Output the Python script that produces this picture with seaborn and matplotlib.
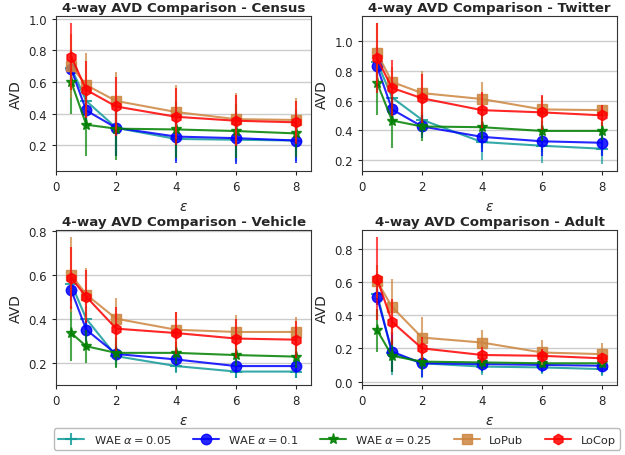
import matplotlib
matplotlib.use("Agg")
import matplotlib.pyplot as plt
import seaborn as sns
import numpy as np

sns.set_style("ticks")
plt.rcParams['font.family'] = ['DejaVu Sans']

eps = [0.5, 1, 2, 4, 6, 8]
methods = [r'WAE $\alpha = 0.05$', r'WAE $\alpha = 0.1$', r'WAE $\alpha = 0.25$', 'LoPub', 'LoCop']
colors = ['#139a9a', 'blue', 'green', 'peru', 'red']
markers = ['+', 'o', '*', 's', 'h']

titles = ['4-way AVD Comparison - Census', '4-way AVD Comparison - Twitter',
          '4-way AVD Comparison - Vehicle', '4-way AVD Comparison - Adult']

# Census
census_vals = [
    [0.69, 0.48, 0.31, 0.24, 0.235, 0.23],
    [0.68, 0.42, 0.31, 0.255, 0.245, 0.23],
    [0.60, 0.33, 0.305, 0.30, 0.29, 0.275],
    [0.70, 0.58, 0.48, 0.41, 0.365, 0.36],
    [0.76, 0.55, 0.445, 0.38, 0.355, 0.345],
]
census_err = [
    [0.08, 0.12, 0.18, 0.14, 0.14, 0.13],
    [0.08, 0.10, 0.18, 0.165, 0.165, 0.14],
    [0.20, 0.20, 0.195, 0.18, 0.17, 0.15],
    [0.20, 0.20, 0.18, 0.17, 0.165, 0.14],
    [0.21, 0.18, 0.185, 0.18, 0.16, 0.135],
]
# Twitter
twitter_vals = [
    [0.86, 0.62, 0.47, 0.32, 0.295, 0.275],
    [0.83, 0.54, 0.425, 0.355, 0.325, 0.315],
    [0.72, 0.465, 0.425, 0.42, 0.395, 0.395],
    [0.92, 0.725, 0.65, 0.61, 0.54, 0.535],
    [0.885, 0.685, 0.615, 0.535, 0.52, 0.50],
]
twitter_err = [
    [0.10, 0.10, 0.10, 0.12, 0.115, 0.105],
    [0.10, 0.10, 0.08, 0.10, 0.10, 0.09],
    [0.22, 0.185, 0.095, 0.08, 0.07, 0.06],
    [0.20, 0.10, 0.15, 0.115, 0.09, 0.035],
    [0.235, 0.19, 0.165, 0.12, 0.12, 0.07],
]
# Vehicle
vehicle_vals = [
    [0.56, 0.40, 0.23, 0.185, 0.16, 0.16],
    [0.53, 0.35, 0.24, 0.215, 0.185, 0.185],
    [0.335, 0.275, 0.245, 0.245, 0.235, 0.228],
    [0.60, 0.51, 0.40, 0.35, 0.34, 0.34],
    [0.585, 0.50, 0.355, 0.335, 0.31, 0.305],
]
vehicle_err = [
    [0.05, 0.06, 0.05, 0.03, 0.03, 0.03],
    [0.05, 0.05, 0.03, 0.03, 0.03, 0.03],
    [0.125, 0.075, 0.07, 0.05, 0.05, 0.05],
    [0.17, 0.12, 0.095, 0.08, 0.075, 0.07],
    [0.14, 0.12, 0.10, 0.095, 0.09, 0.085],
]
# Adult
adult_vals = [
    [0.53, 0.17, 0.11, 0.09, 0.085, 0.075],
    [0.51, 0.18, 0.11, 0.105, 0.10, 0.095],
    [0.31, 0.155, 0.12, 0.115, 0.11, 0.11],
    [0.605, 0.45, 0.265, 0.235, 0.175, 0.165],
    [0.62, 0.36, 0.20, 0.16, 0.155, 0.14],
]
adult_err = [
    [0.05, 0.13, 0.09, 0.05, 0.04, 0.04],
    [0.05, 0.12, 0.08, 0.04, 0.04, 0.03],
    [0.13, 0.10, 0.05, 0.04, 0.03, 0.03],
    [0.10, 0.17, 0.125, 0.075, 0.075, 0.065],
    [0.25, 0.14, 0.07, 0.05, 0.04, 0.03],
]

panels = [(census_vals, census_err), (twitter_vals, twitter_err),
          (vehicle_vals, vehicle_err), (adult_vals, adult_err)]

fig, axes = plt.subplots(2, 2, figsize=(6.25, 4.56), dpi=100)
fig.subplots_adjust(left=0.09, right=0.987, top=0.962, bottom=0.153, wspace=0.2, hspace=0.38)

for ax, title, (vals, errs) in zip(axes.flat, titles, panels):
    for name, c, m, v, e in zip(methods, colors, markers, vals, errs):
        ax.errorbar(eps, v, yerr=e, fmt='none', ecolor=c, alpha=0.7, elinewidth=1.5)
        ms = {'+': 9, 'o': 7.5, '*': 8, 's': 7.5, 'h': 7.5}[m]
        sns.lineplot(x=eps, y=v, color=c, marker=m, markersize=ms, linewidth=1.5,
                     markeredgecolor=c, markeredgewidth=1.5 if m == '+' else 1,
                     alpha=0.85, ax=ax, label=name, legend=False)
    ax.set_title(title, fontsize=9.6, fontweight='bold', pad=4)
    ax.set_xlabel(r'$\varepsilon$', fontsize=10)
    ax.set_ylabel('AVD', fontsize=10)
    ax.set_xlim(0, 8.5)
    ax.set_xticks([0, 2, 4, 6, 8])
    ax.yaxis.grid(True, color='#cccccc', linewidth=1)
    ax.xaxis.grid(False)
    ax.tick_params(labelsize=8.5, length=3)
    for s in ax.spines.values():
        s.set_color('#333333')
        s.set_linewidth(0.8)

handles, labels = axes[0, 0].get_legend_handles_labels()
leg = fig.legend(handles, labels, loc='center', ncol=5, bbox_to_anchor=(0.539, 0.035),
                 fontsize=8.2, frameon=True, shadow=False, handlelength=2.3,
                 columnspacing=1.9, edgecolor='#aaaaaa')

fig.savefig('out.png', dpi=100)
